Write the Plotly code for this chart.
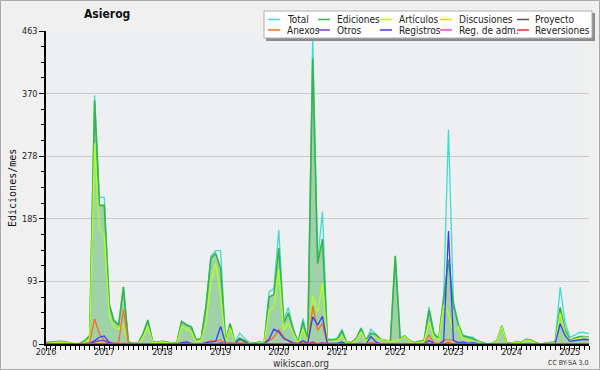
import plotly.graph_objects as go
import pandas as pd

# ---------------- data (monthly, Jan 2016 .. May 2025) ----------------
months = pd.date_range("2016-01-01", "2025-05-01", freq="MS").strftime("%Y-%m-%d").tolist()

total = [2, 3, 4, 4, 3, 1, 0, 1, 5, 13,
         368, 217, 217, 60, 36, 29, 85, 3, 1, 1,
         15, 36, 3, 3, 4, 3, 1, 2, 34, 29,
         26, 6, 8, 57, 130, 138, 138, 4, 31, 3,
         16, 8, 2, 1, 3, 2, 77, 82, 169, 37,
         54, 22, 3, 38, 6, 456, 123, 196, 7, 7,
         8, 22, 3, 2, 9, 24, 5, 22, 15, 7,
         6, 3, 131, 8, 12, 5, 2, 4, 5, 55,
         16, 8, 72, 317, 63, 30, 13, 11, 10, 5,
         2, 0, 1, 5, 27, 2, 1, 4, 2, 7,
         6, 2, 0, 1, 3, 4, 84, 33, 10, 13,
         17, 17, 15]

ediciones = [2, 3, 4, 4, 3, 1, 0, 1, 5, 12,
             360, 205, 205, 58, 35, 28, 84, 3, 1, 1,
             15, 35, 3, 3, 4, 3, 1, 2, 33, 28,
             25, 6, 8, 55, 127, 134, 112, 3, 30, 2,
             9, 5, 2, 1, 3, 1, 70, 73, 142, 31,
             46, 21, 2, 33, 5, 422, 119, 155, 6, 6,
             7, 19, 3, 2, 8, 23, 5, 16, 14, 7,
             6, 3, 130, 8, 12, 5, 2, 4, 5, 50,
             15, 8, 68, 125, 58, 28, 12, 10, 8, 4,
             2, 0, 1, 5, 27, 2, 1, 3, 2, 7,
             6, 2, 0, 1, 2, 3, 54, 22, 6, 9,
             11, 11, 10]

articulos = [1, 2, 3, 3, 2, 1, 0, 0, 2, 8,
             297, 169, 161, 43, 25, 22, 28, 1, 1, 0,
             10, 26, 2, 3, 3, 2, 1, 1, 26, 22,
             18, 3, 6, 29, 92, 119, 72, 2, 24, 2,
             5, 3, 1, 0, 2, 1, 50, 55, 110, 20,
             31, 15, 1, 22, 3, 72, 46, 90, 4, 4,
             5, 12, 2, 1, 6, 18, 4, 10, 10, 6,
             6, 3, 5, 7, 11, 4, 1, 3, 4, 32,
             10, 6, 58, 45, 18, 26, 8, 6, 5, 3,
             1, 0, 1, 4, 26, 1, 1, 3, 1, 6,
             5, 1, 0, 1, 1, 2, 46, 17, 5, 7,
             9, 10, 9]

discusiones = [0, 0, 0, 0, 0, 0, 0, 0, 0, 0,
               2, 1, 0, 0, 0, 0, 0, 0, 0, 0,
               0, 0, 0, 0, 0, 0, 0, 0, 0, 0,
               0, 0, 0, 0, 0, 0, 0, 0, 0, 0,
               0, 0, 0, 0, 0, 0, 0, 0, 1, 0,
               0, 0, 0, 0, 0, 2, 0, 1, 0, 0,
               0, 0, 0, 0, 0, 0, 0, 0, 0, 0,
               0, 0, 0, 0, 0, 0, 0, 0, 0, 0,
               0, 0, 0, 0, 0, 0, 0, 0, 0, 0,
               0, 0, 0, 0, 0, 0, 0, 0, 0, 0,
               0, 0, 0, 0, 0, 0, 0, 0, 0, 0,
               0, 0, 0]

proyecto = [0] * 113

anexos = [0, 0, 0, 0, 0, 0, 0, 0, 1, 2,
          37, 15, 5, 3, 1, 2, 51, 0, 0, 0,
          0, 1, 0, 0, 0, 0, 0, 0, 2, 1,
          1, 0, 0, 3, 5, 4, 6, 0, 2, 0,
          2, 1, 0, 0, 0, 0, 5, 10, 21, 10,
          5, 2, 0, 3, 0, 56, 20, 30, 0, 0,
          0, 2, 0, 0, 0, 1, 0, 2, 1, 0,
          0, 0, 0, 0, 0, 0, 0, 0, 0, 13,
          2, 0, 6, 6, 6, 0, 0, 0, 0, 0,
          0, 0, 0, 0, 0, 0, 0, 0, 0, 0,
          0, 0, 0, 0, 0, 0, 0, 0, 0, 0,
          0, 0, 0]

otros = [0, 0, 0, 0, 0, 0, 0, 0, 0, 0,
         3, 5, 5, 1, 0, 0, 0, 0, 0, 0,
         0, 0, 0, 0, 0, 0, 0, 0, 0, 0,
         0, 0, 0, 0, 0, 0, 2, 0, 0, 0,
         0, 0, 0, 0, 0, 0, 0, 0, 0, 0,
         0, 0, 0, 0, 0, 3, 0, 2, 0, 0,
         0, 0, 0, 0, 0, 0, 0, 0, 0, 0,
         0, 0, 0, 0, 0, 0, 0, 0, 0, 0,
         0, 0, 0, 0, 0, 0, 0, 0, 0, 0,
         0, 0, 0, 0, 0, 0, 0, 0, 0, 0,
         0, 0, 0, 0, 0, 0, 0, 0, 0, 0,
         0, 0, 0]

registros = [0, 0, 0, 0, 0, 0, 0, 0, 0, 1,
             5, 10, 12, 2, 1, 0, 1, 0, 0, 0,
             0, 1, 0, 0, 0, 0, 0, 0, 2, 3,
             1, 0, 0, 2, 3, 4, 26, 1, 1, 1,
             7, 3, 0, 0, 0, 1, 7, 22, 18, 8,
             5, 1, 1, 5, 1, 40, 28, 41, 1, 1,
             1, 3, 0, 0, 1, 1, 0, 11, 3, 0,
             0, 0, 1, 0, 0, 0, 0, 0, 0, 5,
             1, 0, 4, 167, 5, 2, 3, 1, 2, 1,
             0, 0, 0, 0, 0, 0, 0, 1, 0, 0,
             0, 0, 0, 0, 1, 1, 30, 13, 4, 5,
             7, 7, 6]

reg_adm = [0] * 83 + [1] + [0] * 29

reversiones = [0, 0, 0, 0, 0, 0, 0, 0, 0, 0,
               1, 0, 0, 0, 0, 0, 0, 0, 0, 0,
               0, 0, 0, 0, 0, 0, 0, 0, 0, 0,
               0, 0, 0, 0, 0, 0, 0, 0, 0, 0,
               0, 0, 0, 0, 0, 0, 0, 0, 0, 0,
               0, 0, 0, 0, 0, 2, 0, 0, 0, 0,
               0, 0, 0, 0, 0, 0, 0, 0, 0, 0,
               0, 0, 0, 0, 0, 0, 0, 0, 0, 0,
               0, 0, 0, 2, 0, 0, 0, 0, 0, 0,
               0, 0, 0, 0, 0, 0, 0, 0, 0, 0,
               0, 0, 0, 0, 0, 0, 0, 0, 0, 0,
               0, 0, 0]

y_ticks = [0, 93, 185, 278, 370, 463]
y_labels = ["0", "93", "185", "278", "370", "463"]

series_names = ["Total", "Ediciones", "Artículos", "Discusiones", "Proyecto",
                "Anexos", "Otros", "Registros", "Reg. de adm.", "Reversiones"]
series_values = [total, ediciones, articulos, discusiones, proyecto,
                 anexos, otros, registros, reg_adm, reversiones]
series_colors = ["#3fdcd0", "#38b44a", "#b4ff1e", "#ffcc00", "#555555",
                 "#ff6a1f", "#9030e0", "#3c3cff", "#ee40ee", "#ff2a2a"]

# ---------------- figure ----------------
W, H = 600, 370
ML, MR, MT, MB = 46, 11, 31, 26
PW, PH = W - ML - MR, H - MT - MB

def px(X):
    return (X - ML) / PW

def py(Y):
    return (H - MB - Y) / PH

FONT = "DejaVu Sans Condensed, DejaVu Sans, sans-serif"

fig = go.Figure()
for name, vals, col in zip(series_names, series_values, series_colors):
    if name == "Ediciones":
        fig.add_trace(go.Scatter(x=months, y=vals, name=name, mode="lines",
                                 line=dict(color=col, width=1.6),
                                 fill="tozeroy", fillcolor="rgba(56,170,70,0.42)",
                                 showlegend=False))
    else:
        fig.add_trace(go.Scatter(x=months, y=vals, name=name, mode="lines",
                                 line=dict(color=col, width=1.3),
                                 showlegend=False))

shapes = []
annotations = []

# outer frame
shapes.append(dict(type="rect", xref="paper", yref="paper",
                   x0=px(0.5), x1=px(W - 0.5), y0=py(H - 0.5), y1=py(0.5),
                   line=dict(color="#a8a8a8", width=1), fillcolor="rgba(0,0,0,0)",
                   layer="above"))

# legend box with shadow
shapes.append(dict(type="rect", xref="paper", yref="paper",
                   x0=px(266), x1=px(595), y0=py(41), y1=py(13),
                   line=dict(width=0), fillcolor="#8c8c8c", layer="above"))
shapes.append(dict(type="rect", xref="paper", yref="paper",
                   x0=px(264), x1=px(592), y0=py(38), y1=py(11),
                   line=dict(color="#b0b0b0", width=1), fillcolor="white", layer="above"))

col_line_x = [268, 318, 380, 440, 517]
col_text_x = [285, 335, 397, 457, 533]
row_y = [19.5, 30]
for k, (name, col) in enumerate(zip(series_names, series_colors)):
    r, c = divmod(k, 5)
    yy = py(row_y[r])
    shapes.append(dict(type="line", xref="paper", yref="paper",
                       x0=px(col_line_x[c]), x1=px(col_line_x[c] + 12), y0=yy, y1=yy,
                       line=dict(color=col, width=1.5), layer="above"))
    annotations.append(dict(text=name, xref="paper", yref="paper",
                            x=px(col_text_x[c]), y=yy, xanchor="left", yanchor="middle",
                            showarrow=False, font=dict(family=FONT, size=10, color="#222")))

# title, axis title, footer
annotations.append(dict(text="<b>Asierog</b>", xref="paper", yref="paper",
                        x=px(107), y=py(14), xanchor="center", yanchor="middle",
                        showarrow=False, font=dict(family=FONT, size=12, color="#111")))
annotations.append(dict(text="Ediciones/mes", xref="paper", yref="paper",
                        x=px(12), y=py(188), xanchor="center", yanchor="middle",
                        textangle=-90, showarrow=False,
                        font=dict(family="DejaVu Sans Mono, monospace", size=10, color="#111")))
annotations.append(dict(text="wikiscan.org", xref="paper", yref="paper",
                        x=px(301), y=py(363), xanchor="center", yanchor="middle",
                        showarrow=False, font=dict(family=FONT, size=10, color="#333")))
annotations.append(dict(text="CC BY-SA 3.0", xref="paper", yref="paper",
                        x=px(590), y=py(363), xanchor="right", yanchor="middle",
                        showarrow=False, font=dict(family=FONT, size=7, color="#333")))

fig.update_layout(
    width=W, height=H,
    margin=dict(l=ML, r=MR, t=MT, b=MB, autoexpand=False),
    paper_bgcolor="#f0f0f0",
    plot_bgcolor="#edeff1",
    showlegend=False,
    shapes=shapes,
    annotations=annotations,
    xaxis=dict(type="date", range=[months[0], months[-1]], automargin=False,
               tick0="2016-01-01", dtick="M12", tickformat="%Y",
               ticks="outside", ticklen=5, tickcolor="black", tickwidth=1,
               ticklabelstandoff=-7,
               showline=True, linecolor="black", linewidth=1.5,
               showgrid=False, zeroline=False,
               tickfont=dict(family=FONT, size=9, color="#222"),
               minor=dict(dtick="M1", ticks="outside", ticklen=4,
                          tickcolor="black", tickwidth=1, showgrid=False)),
    yaxis=dict(range=[0, 463], tickmode="array", tickvals=y_ticks, ticktext=y_labels,
               automargin=False,
               ticks="outside", ticklen=5, tickcolor="black",
               showline=True, linecolor="black", linewidth=1.5,
               showgrid=True, gridcolor="#cacaca", gridwidth=1, zeroline=False,
               tickfont=dict(family=FONT, size=9, color="#222"),
               minor=dict(tick0=0, dtick=463 / 20, ticks="outside", ticklen=3,
                          tickcolor="black", showgrid=False)),
)

fig.write_html("out.html", config={"displayModeBar": False},
               post_script="document.body.style.margin='0';document.body.style.overflow='hidden';")
